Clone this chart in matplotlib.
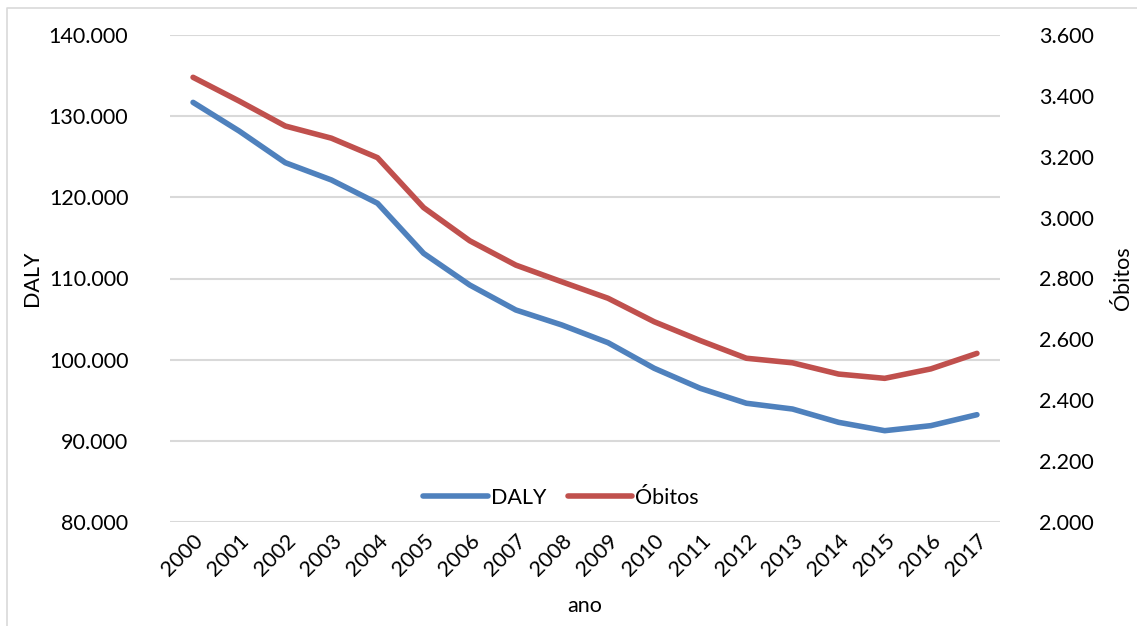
import matplotlib.pyplot as plt
from matplotlib.lines import Line2D
from matplotlib.ticker import FuncFormatter
import numpy as np

plt.rcParams['font.family'] = ['Lato', 'DejaVu Sans']

anos = [str(a) for a in range(2000, 2018)]
daly = [131700, 128170, 124270, 122140, 119270, 113100, 109200, 106120, 104270,
        102090, 98940, 96470, 94630, 93920, 92280, 91250, 91870, 93220]
obitos = [3461, 3383, 3301, 3261, 3197, 3033, 2924, 2844, 2789,
          2735, 2658, 2596, 2538, 2523, 2486, 2472, 2503, 2554]

azul = '#4f81bd'
vermelho = '#c0504d'
fs = 15.5


def milhar(v, pos):
    # separador de milhar com ponto
    return f'{v:,.0f}'.replace(',', '.')


fig = plt.figure(figsize=(11.37, 6.26), dpi=100)
ax = fig.add_axes([170 / 1137, 1 - 522 / 626, 830 / 1137, 487 / 626])
ax2 = ax.twinx()

x = np.arange(len(anos))
ax.plot(x, daly, color=azul, lw=4, solid_capstyle='round', label='DALY')
ax2.plot(x, obitos, color=vermelho, lw=4, solid_capstyle='round', label='Óbitos')

ax.set_xlim(-0.5, len(anos) - 0.5)
ax.set_ylim(80000, 140000)
ax.set_yticks(np.arange(80000, 140001, 10000))
ax2.set_ylim(2000, 3600)
ax2.set_yticks(np.arange(2000, 3601, 200))
ax.yaxis.set_major_formatter(FuncFormatter(milhar))
ax2.yaxis.set_major_formatter(FuncFormatter(milhar))

ax.set_xticks(x)
ax.set_xticklabels(anos, rotation=45, ha='right', rotation_mode='anchor', fontsize=fs)
ax.tick_params(axis='x', length=0, pad=6)
ax.tick_params(axis='y', length=0, labelsize=fs, pad=30)
ax2.tick_params(axis='y', length=0, labelsize=fs, pad=28)

ax.grid(axis='y', color='#d9d9d9', lw=1.5)
ax.set_axisbelow(True)
for a in (ax, ax2):
    for s in a.spines.values():
        s.set_visible(False)

ax.set_ylabel('DALY', fontsize=fs, labelpad=5)
ax2.set_ylabel('Óbitos', fontsize=fs, rotation=90, labelpad=14)
ax.set_xlabel('ano', fontsize=fs, labelpad=12)

handles = [Line2D([], [], color=azul, lw=4, solid_capstyle='round'),
           Line2D([], [], color=vermelho, lw=4, solid_capstyle='round')]
fig.legend(handles, ['DALY', 'Óbitos'], loc='center', bbox_to_anchor=(561 / 1137, 1 - 498 / 626),
           ncol=2, frameon=False, fontsize=fs, handlelength=3.0, handletextpad=0.15,
           columnspacing=1.0)

# borda da área do gráfico
fig.add_artist(Line2D([7 / 1137, 7 / 1137, 1], [0, 1 - 8 / 626, 1 - 8 / 626],
                      color='#d9d9d9', lw=1.2, transform=fig.transFigure))

fig.savefig('out.png', dpi=100)
